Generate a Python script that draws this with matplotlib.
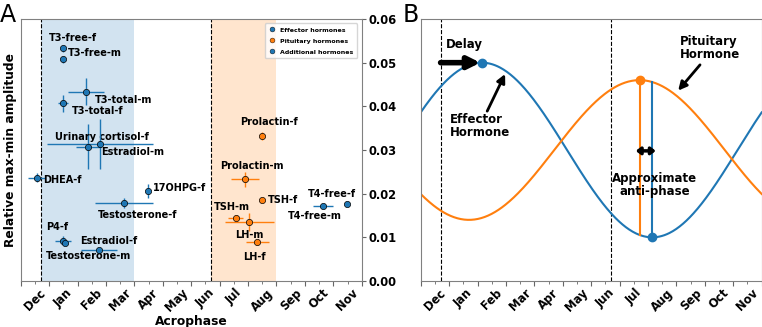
import matplotlib.pyplot as plt
import numpy as np
from matplotlib.lines import Line2D

plt.rcParams['font.family'] = 'DejaVu Sans'
plt.rcParams['font.weight'] = 'bold'
plt.rcParams['axes.labelweight'] = 'bold'

blue = '#1f77b4'
orange = '#ff7f0e'

months = ["Dec", "Jan", "Feb", "Mar", "Apr", "May", "Jun",
          "Jul", "Aug", "Sep", "Oct", "Nov"]

# panel A: acrophase (months after Dec 1) and relative amplitude
names = ["T3-free-f", "T3-free-m", "T3-total-m", "T3-total-f",
         "Urinary cortisol-f", "Estradiol-m", "DHEA-f", "17OHPG-f",
         "Testosterone-f", "P4-f", "Testosterone-m", "Estradiol-f",
         "T4-free-m", "T4-free-f",
         "Prolactin-f", "Prolactin-m", "TSH-f", "TSH-m", "LH-m", "LH-f"]
phase = [1.50, 1.50, 2.31, 1.50, 2.38, 2.79, 0.56, 4.49,
         3.63, 1.50, 1.56, 2.76, 10.65, 11.49,
         8.49, 7.90, 8.49, 7.57, 8.04, 8.33]
amp = [0.0533, 0.0508, 0.0433, 0.0407, 0.0308, 0.0314, 0.0237, 0.0206,
       0.0178, 0.0092, 0.0088, 0.0072, 0.0172, 0.0176,
       0.0332, 0.0233, 0.0185, 0.0145, 0.0135, 0.0089]
phase_err = [0.03, 0.03, 0.63, 0.18, 0.44, 1.85, 0.29, 0.04,
             1.02, 0.28, 0.10, 0.63, 0.35, 0.05,
             0.05, 0.49, 0.05, 0.26, 0.86, 0.39]
amp_err = [0.0008, 0.0008, 0.0031, 0.0020, 0.0052, 0.0058, 0.0010, 0.0016,
           0.0011, 0.0010, 0.0006, 0.0004, 0.0004, 0.0004,
           0.0009, 0.0017, 0.0004, 0.0006, 0.0021, 0.0006]
group = ["eff", "eff", "eff", "eff", "add", "add", "add", "add",
         "add", "add", "add", "add", "eff", "eff",
         "pit", "pit", "pit", "pit", "pit", "pit"]

# label placement (text centres, data coords)
label_xy = [(1.82, 0.0557), (2.61, 0.0521), (3.61, 0.0414), (2.70, 0.0389),
            (2.85, 0.0330), (3.95, 0.0296), (1.46, 0.0231), (5.59, 0.0212),
            (4.12, 0.0150), (1.27, 0.0124), (2.38, 0.0058), (3.10, 0.0092),
            (10.34, 0.0149), (10.96, 0.0199),
            (8.73, 0.0363), (8.15, 0.0264), (9.23, 0.0185), (7.43, 0.0169),
            (8.03, 0.0105), (8.24, 0.0056)]

solstices = [0.70, 6.70]
effector_window = (0.70, 3.99)
pituitary_window = (6.70, 8.98)

# panel B: schematic annual cycles
eff_mean, eff_amp, eff_peak = 0.030, 0.020, 2.15
pit_mean, pit_amp, pit_peak = 0.030, 0.016, 7.70

group_color = {"eff": blue, "pit": orange, "add": blue}

fig = plt.figure(figsize=(7.62, 3.27), dpi=100)
axA = fig.add_axes([0.0272, 0.1407, 0.4475, 0.8012])
axB = fig.add_axes([0.5521, 0.1407, 0.4475, 0.8012])

for ax in (axA, axB):
    ax.set_xlim(0, 12)
    ax.set_ylim(0, 0.06)
    ax.set_xticks(np.arange(13))
    ax.set_xticklabels([])
    ax.set_xticks(np.arange(12) + 0.5, minor=True)
    ax.set_xticklabels(months, minor=True, rotation=45, ha='center',
                       fontsize=8.3, fontweight='bold')
    ax.tick_params(axis='x', which='major', length=3.5, color='0.4')
    ax.tick_params(axis='x', which='minor', length=2, color='0.4', pad=2)
    for s in ax.spines.values():
        s.set_color('0.5')
    for x in solstices:
        ax.axvline(x, color='k', ls='--', lw=0.8)

# ---- panel A
axA.axvspan(*effector_window, color=blue, alpha=0.2, lw=0)
axA.axvspan(*pituitary_window, color=orange, alpha=0.2, lw=0)
for i in range(len(names)):
    c = group_color[group[i]]
    axA.errorbar(phase[i], amp[i], xerr=phase_err[i], yerr=amp_err[i],
                 fmt='o', color=c, ecolor=c, ms=4.5, mec='k', mew=0.5,
                 elinewidth=1, capsize=0, zorder=3)
    axA.text(label_xy[i][0], label_xy[i][1], names[i], ha='center',
             va='center', fontsize=7, fontweight='bold')

axA.yaxis.tick_right()
axA.yaxis.set_label_position('left')
axA.set_yticks(np.arange(0, 0.061, 0.01))
axA.set_yticklabels([f"{v:.2f}" for v in np.arange(0, 0.061, 0.01)],
                    fontsize=8.3, fontweight='bold')
axA.tick_params(axis='y', length=3, color='0.4', pad=2)
axA.set_ylabel("Relative max-min amplitude", fontsize=8.8, labelpad=3)
axA.set_xlabel("Acrophase", fontsize=8.8)
axA.xaxis.set_label_coords(0.5, -0.128)

handles = [Line2D([], [], ls='none', marker='o', color=blue, mec='k',
                  mew=0.3, ms=3.5),
           Line2D([], [], ls='none', marker='o', color=orange, mec='k',
                  mew=0.3, ms=3.5),
           Line2D([], [], ls='none', marker='o', color=blue, mec='k',
                  mew=0.3, ms=3.5)]
axA.legend(handles, ["Effector hormones", "Pituitary hormones",
                     "Additional hormones"], loc='upper right',
           prop={'size': 4.5, 'weight': 'bold'}, handlelength=1,
           handletextpad=0.8, borderpad=0.6, labelspacing=0.9,
           bbox_to_anchor=(0.995, 0.995))

# ---- panel B
t = np.linspace(0, 12, 400)
eff = eff_mean + eff_amp * np.cos(2 * np.pi * (t - eff_peak) / 12)
pit = pit_mean + pit_amp * np.cos(2 * np.pi * (t - pit_peak) / 12)
axB.plot(t, eff, color=blue, lw=1.5)
axB.plot(t, pit, color=orange, lw=1.5)

eff_trough = eff_peak + 6
eff_at_pit_peak = eff_mean + eff_amp * np.cos(2 * np.pi * (pit_peak - eff_peak) / 12)
pit_at_eff_trough = pit_mean + pit_amp * np.cos(2 * np.pi * (eff_trough - pit_peak) / 12)
axB.plot([pit_peak, pit_peak], [eff_at_pit_peak, pit_mean + pit_amp],
         color=orange, lw=1.5)
axB.plot([eff_trough, eff_trough], [eff_mean - eff_amp, pit_at_eff_trough],
         color=blue, lw=1.5)
axB.plot([eff_peak, eff_trough], [eff_mean + eff_amp, eff_mean - eff_amp],
         'o', color=blue, ms=6, zorder=4)
axB.plot(pit_peak, pit_mean + pit_amp, 'o', color=orange, ms=6, zorder=4)

axB.annotate('', xy=(eff_peak - 0.05, eff_mean + eff_amp),
             xytext=(solstices[0], eff_mean + eff_amp),
             arrowprops=dict(arrowstyle='-|>,head_width=0.35,head_length=0.7',
                             lw=4, color='k', shrinkA=0, shrinkB=0))
axB.text(0.9, 0.0542, "Delay", fontsize=8.5, fontweight='bold', va='center')

axB.annotate('', xy=(2.97, 0.0474), xytext=(2.34, 0.0389),
             arrowprops=dict(arrowstyle='-|>,head_width=0.25,head_length=0.5',
                             lw=2, color='k', shrinkA=0, shrinkB=0))
axB.text(1.03, 0.0355, "Effector\nHormone", fontsize=8.5, fontweight='bold',
         va='center', ha='left', linespacing=1.0)

axB.annotate('', xy=(9.06, 0.0436), xytext=(9.83, 0.0495),
             arrowprops=dict(arrowstyle='-|>,head_width=0.25,head_length=0.5',
                             lw=2, color='k', shrinkA=0, shrinkB=0))
axB.text(9.12, 0.0534, "Pituitary\nHormone", fontsize=8.5, fontweight='bold',
         va='center', ha='left', linespacing=1.0)

axB.annotate('', xy=(8.27, 0.0298), xytext=(7.57, 0.0298),
             arrowprops=dict(arrowstyle='<|-|>,head_width=0.2,head_length=0.25',
                             lw=2.5, color='k', shrinkA=0, shrinkB=0))
axB.text(8.24, 0.0220, "Approximate\nanti-phase", fontsize=8.5,
         fontweight='bold', va='center', ha='center', linespacing=1.0)
axB.set_yticks([])

fig.text(0.0, 0.933, "A", fontsize=17, fontweight='normal', va='baseline')
fig.text(0.528, 0.933, "B", fontsize=17, fontweight='normal', va='baseline')

fig.savefig("out.png", dpi=100)
